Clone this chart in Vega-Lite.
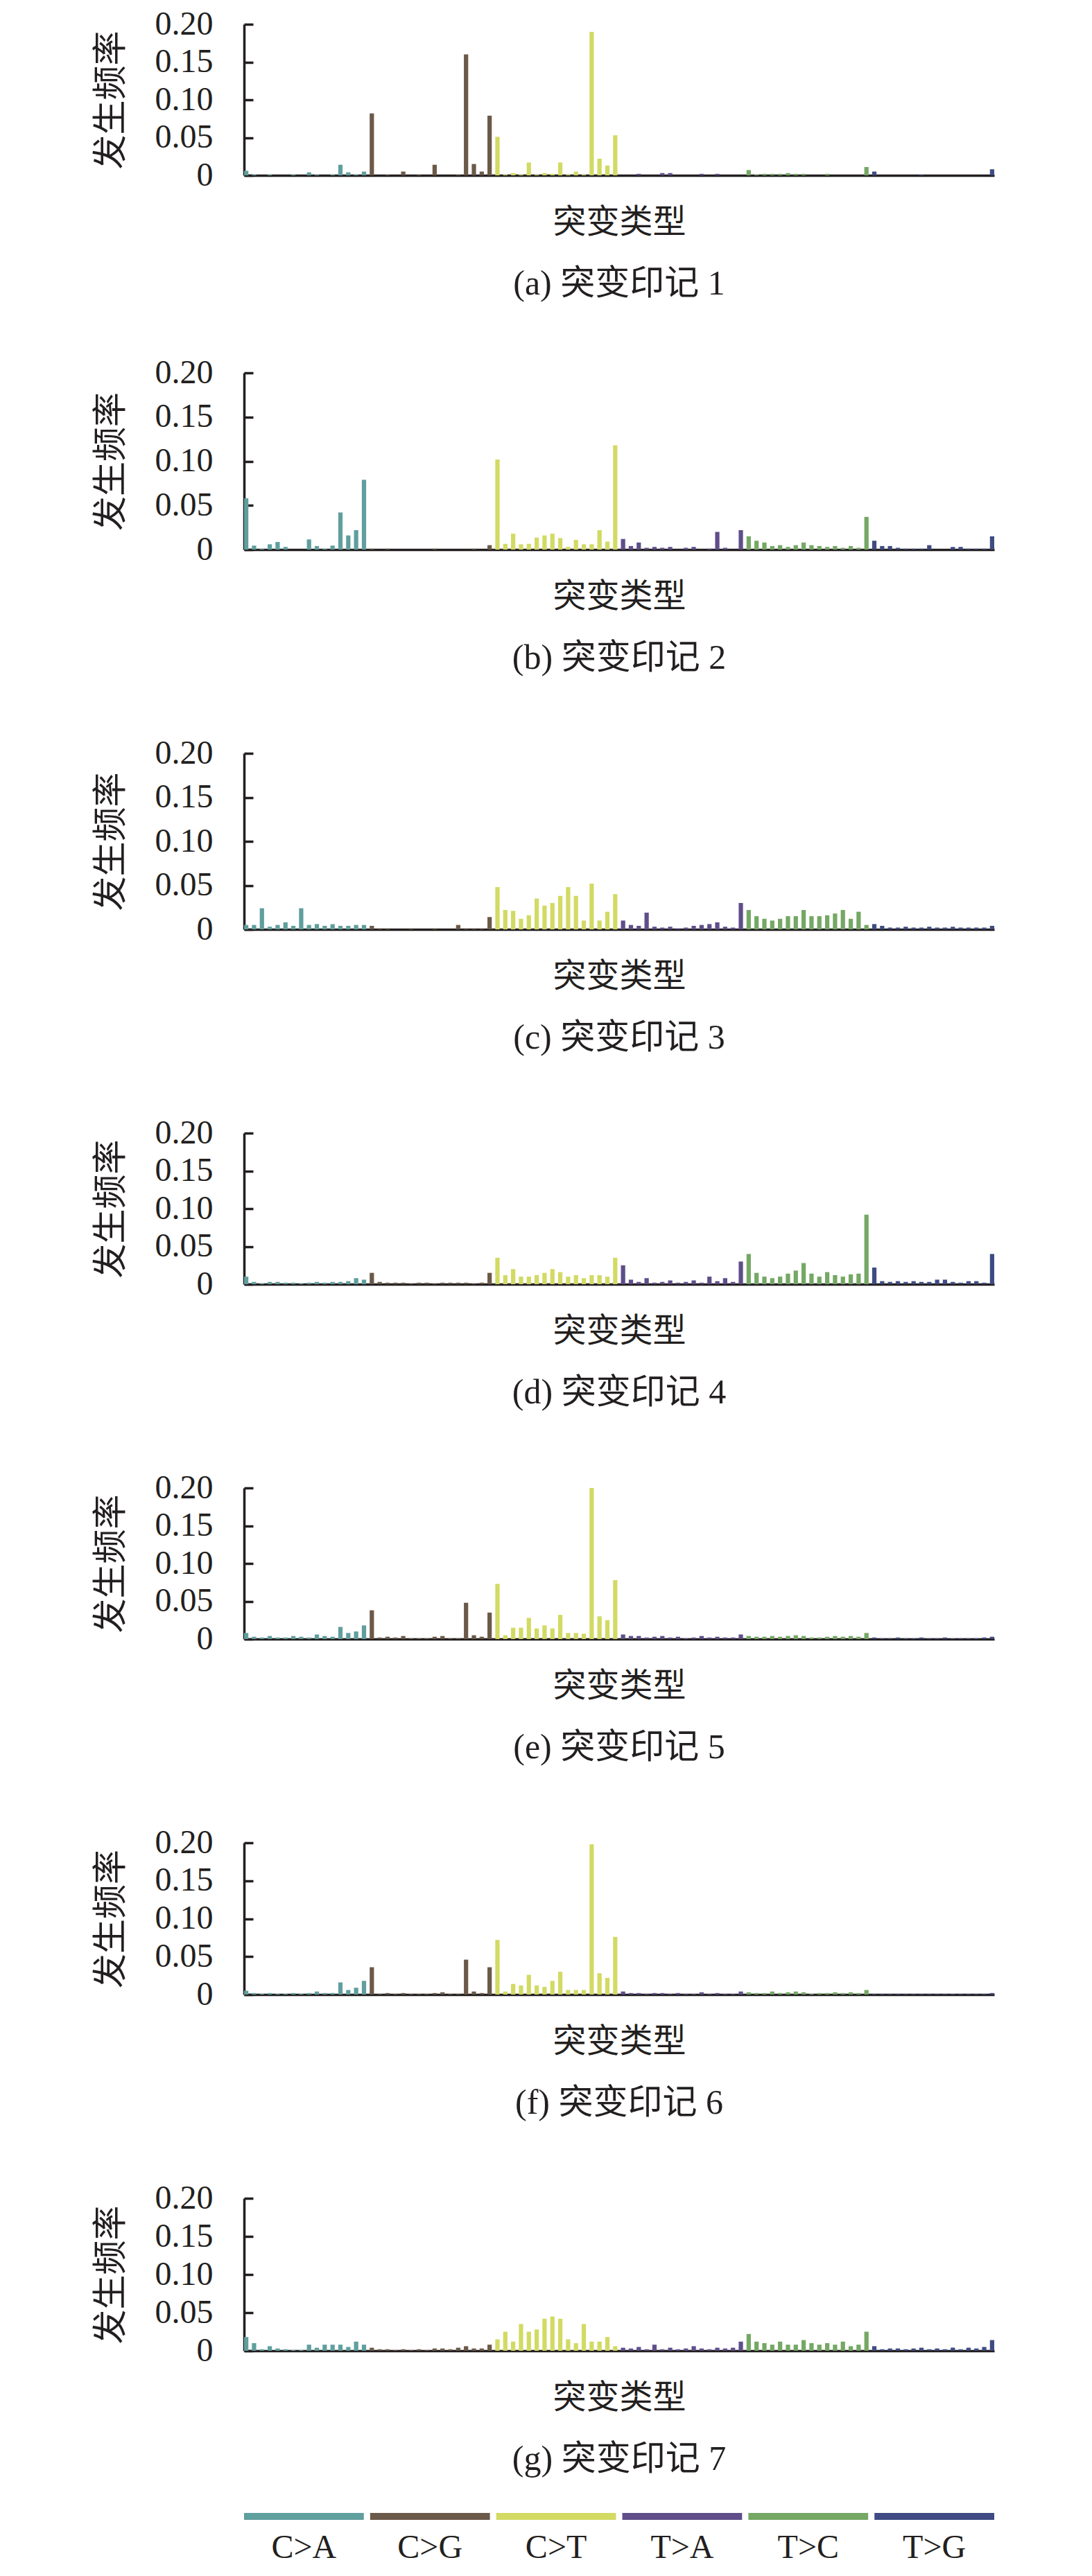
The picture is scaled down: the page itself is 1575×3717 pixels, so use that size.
{
"$schema": "https://vega.github.io/schema/vega-lite/v6.json",
"padding": {"left": 135, "top": 11, "right": 20, "bottom": 10},
"background": "white",
"config": {
 "view": {"stroke": null},
 "axis": {"domainColor": "#231f20", "domainWidth": 3.5, "tickColor": "#231f20", "tickWidth": 3.5, "grid": false, "labelFont": "Liberation Serif", "labelFontSize": 48, "labelColor": "#231f20", "titleFont": "Noto Sans CJK SC", "titleFontSize": 48, "titleFontWeight": "normal", "titleColor": "#231f20"},
 "axisY": {"tickSize": -13, "labelPadding": 58, "titlePadding": 38, "titleFontSize": 50},
 "axisX": {"titlePadding": 44, "labels": false, "ticks": false},
 "title": {"orient": "bottom", "font": "Liberation Serif, Noto Sans CJK SC", "fontSize": 50, "fontWeight": "normal", "color": "#231f20", "offset": 40, "anchor": "middle"}
},
"data": {"values": [
{"s":"a","i":0,"t":"C>A","v":0.006},{"s":"a","i":1,"t":"C>A","v":0.001},{"s":"a","i":2,"t":"C>A","v":0},{"s":"a","i":3,"t":"C>A","v":0.001},{"s":"a","i":4,"t":"C>A","v":0},{"s":"a","i":5,"t":"C>A","v":0},{"s":"a","i":6,"t":"C>A","v":0.001},{"s":"a","i":7,"t":"C>A","v":0},{"s":"a","i":8,"t":"C>A","v":0.004},{"s":"a","i":9,"t":"C>A","v":0.001},{"s":"a","i":10,"t":"C>A","v":0},{"s":"a","i":11,"t":"C>A","v":0.001},{"s":"a","i":12,"t":"C>A","v":0.014},{"s":"a","i":13,"t":"C>A","v":0.004},{"s":"a","i":14,"t":"C>A","v":0.001},{"s":"a","i":15,"t":"C>A","v":0.005},
{"s":"a","i":16,"t":"C>G","v":0.082},{"s":"a","i":17,"t":"C>G","v":0},{"s":"a","i":18,"t":"C>G","v":0.001},{"s":"a","i":19,"t":"C>G","v":0},{"s":"a","i":20,"t":"C>G","v":0.005},{"s":"a","i":21,"t":"C>G","v":0},{"s":"a","i":22,"t":"C>G","v":0.001},{"s":"a","i":23,"t":"C>G","v":0},{"s":"a","i":24,"t":"C>G","v":0.014},{"s":"a","i":25,"t":"C>G","v":0},{"s":"a","i":26,"t":"C>G","v":0},{"s":"a","i":27,"t":"C>G","v":0.001},{"s":"a","i":28,"t":"C>G","v":0.16},{"s":"a","i":29,"t":"C>G","v":0.015},{"s":"a","i":30,"t":"C>G","v":0.005},{"s":"a","i":31,"t":"C>G","v":0.079},
{"s":"a","i":32,"t":"C>T","v":0.051},{"s":"a","i":33,"t":"C>T","v":0.001},{"s":"a","i":34,"t":"C>T","v":0.003},{"s":"a","i":35,"t":"C>T","v":0.001},{"s":"a","i":36,"t":"C>T","v":0.017},{"s":"a","i":37,"t":"C>T","v":0.001},{"s":"a","i":38,"t":"C>T","v":0.003},{"s":"a","i":39,"t":"C>T","v":0.002},{"s":"a","i":40,"t":"C>T","v":0.017},{"s":"a","i":41,"t":"C>T","v":0.001},{"s":"a","i":42,"t":"C>T","v":0.005},{"s":"a","i":43,"t":"C>T","v":0.001},{"s":"a","i":44,"t":"C>T","v":0.19},{"s":"a","i":45,"t":"C>T","v":0.022},{"s":"a","i":46,"t":"C>T","v":0.013},{"s":"a","i":47,"t":"C>T","v":0.053},
{"s":"a","i":48,"t":"T>A","v":0},{"s":"a","i":49,"t":"T>A","v":0},{"s":"a","i":50,"t":"T>A","v":0.002},{"s":"a","i":51,"t":"T>A","v":0},{"s":"a","i":52,"t":"T>A","v":0},{"s":"a","i":53,"t":"T>A","v":0.003},{"s":"a","i":54,"t":"T>A","v":0.003},{"s":"a","i":55,"t":"T>A","v":0},{"s":"a","i":56,"t":"T>A","v":0},{"s":"a","i":57,"t":"T>A","v":0},{"s":"a","i":58,"t":"T>A","v":0.002},{"s":"a","i":59,"t":"T>A","v":0},{"s":"a","i":60,"t":"T>A","v":0.002},{"s":"a","i":61,"t":"T>A","v":0},{"s":"a","i":62,"t":"T>A","v":0},{"s":"a","i":63,"t":"T>A","v":0},
{"s":"a","i":64,"t":"T>C","v":0.007},{"s":"a","i":65,"t":"T>C","v":0.001},{"s":"a","i":66,"t":"T>C","v":0.002},{"s":"a","i":67,"t":"T>C","v":0.002},{"s":"a","i":68,"t":"T>C","v":0.002},{"s":"a","i":69,"t":"T>C","v":0.003},{"s":"a","i":70,"t":"T>C","v":0.002},{"s":"a","i":71,"t":"T>C","v":0.002},{"s":"a","i":72,"t":"T>C","v":0},{"s":"a","i":73,"t":"T>C","v":0},{"s":"a","i":74,"t":"T>C","v":0.002},{"s":"a","i":75,"t":"T>C","v":0},{"s":"a","i":76,"t":"T>C","v":0},{"s":"a","i":77,"t":"T>C","v":0},{"s":"a","i":78,"t":"T>C","v":0},{"s":"a","i":79,"t":"T>C","v":0.011},
{"s":"a","i":80,"t":"T>G","v":0.005},{"s":"a","i":81,"t":"T>G","v":0},{"s":"a","i":82,"t":"T>G","v":0},{"s":"a","i":83,"t":"T>G","v":0},{"s":"a","i":84,"t":"T>G","v":0},{"s":"a","i":85,"t":"T>G","v":0},{"s":"a","i":86,"t":"T>G","v":0.001},{"s":"a","i":87,"t":"T>G","v":0},{"s":"a","i":88,"t":"T>G","v":0},{"s":"a","i":89,"t":"T>G","v":0},{"s":"a","i":90,"t":"T>G","v":0},{"s":"a","i":91,"t":"T>G","v":0},{"s":"a","i":92,"t":"T>G","v":0},{"s":"a","i":93,"t":"T>G","v":0},{"s":"a","i":94,"t":"T>G","v":0},{"s":"a","i":95,"t":"T>G","v":0.008},

{"s":"b","i":0,"t":"C>A","v":0.058},{"s":"b","i":1,"t":"C>A","v":0.0045},{"s":"b","i":2,"t":"C>A","v":0.001},{"s":"b","i":3,"t":"C>A","v":0.006},{"s":"b","i":4,"t":"C>A","v":0.0086},{"s":"b","i":5,"t":"C>A","v":0.003},{"s":"b","i":6,"t":"C>A","v":0},{"s":"b","i":7,"t":"C>A","v":0},{"s":"b","i":8,"t":"C>A","v":0.0115},{"s":"b","i":9,"t":"C>A","v":0.004},{"s":"b","i":10,"t":"C>A","v":0.001},{"s":"b","i":11,"t":"C>A","v":0.0045},{"s":"b","i":12,"t":"C>A","v":0.042},{"s":"b","i":13,"t":"C>A","v":0.016},{"s":"b","i":14,"t":"C>A","v":0.022},{"s":"b","i":15,"t":"C>A","v":0.079},
{"s":"b","i":16,"t":"C>G","v":0.001},{"s":"b","i":17,"t":"C>G","v":0},{"s":"b","i":18,"t":"C>G","v":0.001},{"s":"b","i":19,"t":"C>G","v":0},{"s":"b","i":20,"t":"C>G","v":0},{"s":"b","i":21,"t":"C>G","v":0},{"s":"b","i":22,"t":"C>G","v":0},{"s":"b","i":23,"t":"C>G","v":0},{"s":"b","i":24,"t":"C>G","v":0.001},{"s":"b","i":25,"t":"C>G","v":0},{"s":"b","i":26,"t":"C>G","v":0},{"s":"b","i":27,"t":"C>G","v":0},{"s":"b","i":28,"t":"C>G","v":0},{"s":"b","i":29,"t":"C>G","v":0.001},{"s":"b","i":30,"t":"C>G","v":0},{"s":"b","i":31,"t":"C>G","v":0.005},
{"s":"b","i":32,"t":"C>T","v":0.102},{"s":"b","i":33,"t":"C>T","v":0.0065},{"s":"b","i":34,"t":"C>T","v":0.018},{"s":"b","i":35,"t":"C>T","v":0.006},{"s":"b","i":36,"t":"C>T","v":0.0065},{"s":"b","i":37,"t":"C>T","v":0.0136},{"s":"b","i":38,"t":"C>T","v":0.016},{"s":"b","i":39,"t":"C>T","v":0.018},{"s":"b","i":40,"t":"C>T","v":0.013},{"s":"b","i":41,"t":"C>T","v":0.003},{"s":"b","i":42,"t":"C>T","v":0.011},{"s":"b","i":43,"t":"C>T","v":0.006},{"s":"b","i":44,"t":"C>T","v":0.006},{"s":"b","i":45,"t":"C>T","v":0.022},{"s":"b","i":46,"t":"C>T","v":0.009},{"s":"b","i":47,"t":"C>T","v":0.118},
{"s":"b","i":48,"t":"T>A","v":0.012},{"s":"b","i":49,"t":"T>A","v":0.004},{"s":"b","i":50,"t":"T>A","v":0.008},{"s":"b","i":51,"t":"T>A","v":0.002},{"s":"b","i":52,"t":"T>A","v":0.003},{"s":"b","i":53,"t":"T>A","v":0.002},{"s":"b","i":54,"t":"T>A","v":0.003},{"s":"b","i":55,"t":"T>A","v":0},{"s":"b","i":56,"t":"T>A","v":0.002},{"s":"b","i":57,"t":"T>A","v":0.003},{"s":"b","i":58,"t":"T>A","v":0},{"s":"b","i":59,"t":"T>A","v":0.001},{"s":"b","i":60,"t":"T>A","v":0.02},{"s":"b","i":61,"t":"T>A","v":0.002},{"s":"b","i":62,"t":"T>A","v":0},{"s":"b","i":63,"t":"T>A","v":0.022},
{"s":"b","i":64,"t":"T>C","v":0.015},{"s":"b","i":65,"t":"T>C","v":0.01},{"s":"b","i":66,"t":"T>C","v":0.008},{"s":"b","i":67,"t":"T>C","v":0.004},{"s":"b","i":68,"t":"T>C","v":0.005},{"s":"b","i":69,"t":"T>C","v":0.003},{"s":"b","i":70,"t":"T>C","v":0.005},{"s":"b","i":71,"t":"T>C","v":0.008},{"s":"b","i":72,"t":"T>C","v":0.005},{"s":"b","i":73,"t":"T>C","v":0.004},{"s":"b","i":74,"t":"T>C","v":0.003},{"s":"b","i":75,"t":"T>C","v":0.004},{"s":"b","i":76,"t":"T>C","v":0.002},{"s":"b","i":77,"t":"T>C","v":0.004},{"s":"b","i":78,"t":"T>C","v":0.002},{"s":"b","i":79,"t":"T>C","v":0.037},
{"s":"b","i":80,"t":"T>G","v":0.01},{"s":"b","i":81,"t":"T>G","v":0.004},{"s":"b","i":82,"t":"T>G","v":0.004},{"s":"b","i":83,"t":"T>G","v":0.002},{"s":"b","i":84,"t":"T>G","v":0.001},{"s":"b","i":85,"t":"T>G","v":0.001},{"s":"b","i":86,"t":"T>G","v":0.001},{"s":"b","i":87,"t":"T>G","v":0.005},{"s":"b","i":88,"t":"T>G","v":0},{"s":"b","i":89,"t":"T>G","v":0},{"s":"b","i":90,"t":"T>G","v":0.003},{"s":"b","i":91,"t":"T>G","v":0.003},{"s":"b","i":92,"t":"T>G","v":0.001},{"s":"b","i":93,"t":"T>G","v":0.001},{"s":"b","i":94,"t":"T>G","v":0.001},{"s":"b","i":95,"t":"T>G","v":0.015},

{"s":"c","i":0,"t":"C>A","v":0.005},{"s":"c","i":1,"t":"C>A","v":0.005},{"s":"c","i":2,"t":"C>A","v":0.024},{"s":"c","i":3,"t":"C>A","v":0.003},{"s":"c","i":4,"t":"C>A","v":0.005},{"s":"c","i":5,"t":"C>A","v":0.008},{"s":"c","i":6,"t":"C>A","v":0.004},{"s":"c","i":7,"t":"C>A","v":0.024},{"s":"c","i":8,"t":"C>A","v":0.005},{"s":"c","i":9,"t":"C>A","v":0.006},{"s":"c","i":10,"t":"C>A","v":0.004},{"s":"c","i":11,"t":"C>A","v":0.006},{"s":"c","i":12,"t":"C>A","v":0.004},{"s":"c","i":13,"t":"C>A","v":0.004},{"s":"c","i":14,"t":"C>A","v":0.005},{"s":"c","i":15,"t":"C>A","v":0.005},
{"s":"c","i":16,"t":"C>G","v":0.004},{"s":"c","i":17,"t":"C>G","v":0.001},{"s":"c","i":18,"t":"C>G","v":0.001},{"s":"c","i":19,"t":"C>G","v":0},{"s":"c","i":20,"t":"C>G","v":0},{"s":"c","i":21,"t":"C>G","v":0.001},{"s":"c","i":22,"t":"C>G","v":0},{"s":"c","i":23,"t":"C>G","v":0},{"s":"c","i":24,"t":"C>G","v":0.001},{"s":"c","i":25,"t":"C>G","v":0},{"s":"c","i":26,"t":"C>G","v":0},{"s":"c","i":27,"t":"C>G","v":0.005},{"s":"c","i":28,"t":"C>G","v":0.001},{"s":"c","i":29,"t":"C>G","v":0.001},{"s":"c","i":30,"t":"C>G","v":0.001},{"s":"c","i":31,"t":"C>G","v":0.014},
{"s":"c","i":32,"t":"C>T","v":0.048},{"s":"c","i":33,"t":"C>T","v":0.022},{"s":"c","i":34,"t":"C>T","v":0.021},{"s":"c","i":35,"t":"C>T","v":0.012},{"s":"c","i":36,"t":"C>T","v":0.016},{"s":"c","i":37,"t":"C>T","v":0.035},{"s":"c","i":38,"t":"C>T","v":0.027},{"s":"c","i":39,"t":"C>T","v":0.03},{"s":"c","i":40,"t":"C>T","v":0.038},{"s":"c","i":41,"t":"C>T","v":0.048},{"s":"c","i":42,"t":"C>T","v":0.038},{"s":"c","i":43,"t":"C>T","v":0.01},{"s":"c","i":44,"t":"C>T","v":0.052},{"s":"c","i":45,"t":"C>T","v":0.01},{"s":"c","i":46,"t":"C>T","v":0.02},{"s":"c","i":47,"t":"C>T","v":0.04},
{"s":"c","i":48,"t":"T>A","v":0.01},{"s":"c","i":49,"t":"T>A","v":0.005},{"s":"c","i":50,"t":"T>A","v":0.004},{"s":"c","i":51,"t":"T>A","v":0.019},{"s":"c","i":52,"t":"T>A","v":0.003},{"s":"c","i":53,"t":"T>A","v":0.002},{"s":"c","i":54,"t":"T>A","v":0.003},{"s":"c","i":55,"t":"T>A","v":0.001},{"s":"c","i":56,"t":"T>A","v":0.002},{"s":"c","i":57,"t":"T>A","v":0.004},{"s":"c","i":58,"t":"T>A","v":0.005},{"s":"c","i":59,"t":"T>A","v":0.006},{"s":"c","i":60,"t":"T>A","v":0.008},{"s":"c","i":61,"t":"T>A","v":0.003},{"s":"c","i":62,"t":"T>A","v":0.002},{"s":"c","i":63,"t":"T>A","v":0.03},
{"s":"c","i":64,"t":"T>C","v":0.022},{"s":"c","i":65,"t":"T>C","v":0.015},{"s":"c","i":66,"t":"T>C","v":0.012},{"s":"c","i":67,"t":"T>C","v":0.01},{"s":"c","i":68,"t":"T>C","v":0.012},{"s":"c","i":69,"t":"T>C","v":0.015},{"s":"c","i":70,"t":"T>C","v":0.015},{"s":"c","i":71,"t":"T>C","v":0.022},{"s":"c","i":72,"t":"T>C","v":0.015},{"s":"c","i":73,"t":"T>C","v":0.015},{"s":"c","i":74,"t":"T>C","v":0.016},{"s":"c","i":75,"t":"T>C","v":0.018},{"s":"c","i":76,"t":"T>C","v":0.022},{"s":"c","i":77,"t":"T>C","v":0.012},{"s":"c","i":78,"t":"T>C","v":0.02},{"s":"c","i":79,"t":"T>C","v":0.005},
{"s":"c","i":80,"t":"T>G","v":0.006},{"s":"c","i":81,"t":"T>G","v":0.004},{"s":"c","i":82,"t":"T>G","v":0.002},{"s":"c","i":83,"t":"T>G","v":0.002},{"s":"c","i":84,"t":"T>G","v":0.003},{"s":"c","i":85,"t":"T>G","v":0.002},{"s":"c","i":86,"t":"T>G","v":0.002},{"s":"c","i":87,"t":"T>G","v":0.003},{"s":"c","i":88,"t":"T>G","v":0.002},{"s":"c","i":89,"t":"T>G","v":0.002},{"s":"c","i":90,"t":"T>G","v":0.003},{"s":"c","i":91,"t":"T>G","v":0.002},{"s":"c","i":92,"t":"T>G","v":0.002},{"s":"c","i":93,"t":"T>G","v":0.002},{"s":"c","i":94,"t":"T>G","v":0.002},{"s":"c","i":95,"t":"T>G","v":0.004},

{"s":"d","i":0,"t":"C>A","v":0.01},{"s":"d","i":1,"t":"C>A","v":0.003},{"s":"d","i":2,"t":"C>A","v":0.001},{"s":"d","i":3,"t":"C>A","v":0.003},{"s":"d","i":4,"t":"C>A","v":0.003},{"s":"d","i":5,"t":"C>A","v":0.002},{"s":"d","i":6,"t":"C>A","v":0.002},{"s":"d","i":7,"t":"C>A","v":0.001},{"s":"d","i":8,"t":"C>A","v":0.002},{"s":"d","i":9,"t":"C>A","v":0.003},{"s":"d","i":10,"t":"C>A","v":0.002},{"s":"d","i":11,"t":"C>A","v":0.003},{"s":"d","i":12,"t":"C>A","v":0.003},{"s":"d","i":13,"t":"C>A","v":0.004},{"s":"d","i":14,"t":"C>A","v":0.008},{"s":"d","i":15,"t":"C>A","v":0.006},
{"s":"d","i":16,"t":"C>G","v":0.015},{"s":"d","i":17,"t":"C>G","v":0.003},{"s":"d","i":18,"t":"C>G","v":0.002},{"s":"d","i":19,"t":"C>G","v":0.002},{"s":"d","i":20,"t":"C>G","v":0.002},{"s":"d","i":21,"t":"C>G","v":0.001},{"s":"d","i":22,"t":"C>G","v":0.002},{"s":"d","i":23,"t":"C>G","v":0.002},{"s":"d","i":24,"t":"C>G","v":0.001},{"s":"d","i":25,"t":"C>G","v":0.002},{"s":"d","i":26,"t":"C>G","v":0.002},{"s":"d","i":27,"t":"C>G","v":0.002},{"s":"d","i":28,"t":"C>G","v":0.002},{"s":"d","i":29,"t":"C>G","v":0.001},{"s":"d","i":30,"t":"C>G","v":0.002},{"s":"d","i":31,"t":"C>G","v":0.015},
{"s":"d","i":32,"t":"C>T","v":0.035},{"s":"d","i":33,"t":"C>T","v":0.012},{"s":"d","i":34,"t":"C>T","v":0.02},{"s":"d","i":35,"t":"C>T","v":0.01},{"s":"d","i":36,"t":"C>T","v":0.01},{"s":"d","i":37,"t":"C>T","v":0.012},{"s":"d","i":38,"t":"C>T","v":0.015},{"s":"d","i":39,"t":"C>T","v":0.02},{"s":"d","i":40,"t":"C>T","v":0.016},{"s":"d","i":41,"t":"C>T","v":0.01},{"s":"d","i":42,"t":"C>T","v":0.012},{"s":"d","i":43,"t":"C>T","v":0.008},{"s":"d","i":44,"t":"C>T","v":0.012},{"s":"d","i":45,"t":"C>T","v":0.012},{"s":"d","i":46,"t":"C>T","v":0.01},{"s":"d","i":47,"t":"C>T","v":0.035},
{"s":"d","i":48,"t":"T>A","v":0.025},{"s":"d","i":49,"t":"T>A","v":0.006},{"s":"d","i":50,"t":"T>A","v":0.003},{"s":"d","i":51,"t":"T>A","v":0.008},{"s":"d","i":52,"t":"T>A","v":0.002},{"s":"d","i":53,"t":"T>A","v":0.003},{"s":"d","i":54,"t":"T>A","v":0.005},{"s":"d","i":55,"t":"T>A","v":0.002},{"s":"d","i":56,"t":"T>A","v":0.003},{"s":"d","i":57,"t":"T>A","v":0.005},{"s":"d","i":58,"t":"T>A","v":0.002},{"s":"d","i":59,"t":"T>A","v":0.01},{"s":"d","i":60,"t":"T>A","v":0.004},{"s":"d","i":61,"t":"T>A","v":0.008},{"s":"d","i":62,"t":"T>A","v":0.003},{"s":"d","i":63,"t":"T>A","v":0.03},
{"s":"d","i":64,"t":"T>C","v":0.04},{"s":"d","i":65,"t":"T>C","v":0.015},{"s":"d","i":66,"t":"T>C","v":0.01},{"s":"d","i":67,"t":"T>C","v":0.008},{"s":"d","i":68,"t":"T>C","v":0.01},{"s":"d","i":69,"t":"T>C","v":0.014},{"s":"d","i":70,"t":"T>C","v":0.018},{"s":"d","i":71,"t":"T>C","v":0.028},{"s":"d","i":72,"t":"T>C","v":0.014},{"s":"d","i":73,"t":"T>C","v":0.01},{"s":"d","i":74,"t":"T>C","v":0.016},{"s":"d","i":75,"t":"T>C","v":0.012},{"s":"d","i":76,"t":"T>C","v":0.01},{"s":"d","i":77,"t":"T>C","v":0.013},{"s":"d","i":78,"t":"T>C","v":0.014},{"s":"d","i":79,"t":"T>C","v":0.092},
{"s":"d","i":80,"t":"T>G","v":0.022},{"s":"d","i":81,"t":"T>G","v":0.004},{"s":"d","i":82,"t":"T>G","v":0.003},{"s":"d","i":83,"t":"T>G","v":0.004},{"s":"d","i":84,"t":"T>G","v":0.003},{"s":"d","i":85,"t":"T>G","v":0.004},{"s":"d","i":86,"t":"T>G","v":0.003},{"s":"d","i":87,"t":"T>G","v":0.003},{"s":"d","i":88,"t":"T>G","v":0.006},{"s":"d","i":89,"t":"T>G","v":0.006},{"s":"d","i":90,"t":"T>G","v":0.003},{"s":"d","i":91,"t":"T>G","v":0.002},{"s":"d","i":92,"t":"T>G","v":0.004},{"s":"d","i":93,"t":"T>G","v":0.004},{"s":"d","i":94,"t":"T>G","v":0.002},{"s":"d","i":95,"t":"T>G","v":0.04},

{"s":"e","i":0,"t":"C>A","v":0.008},{"s":"e","i":1,"t":"C>A","v":0.003},{"s":"e","i":2,"t":"C>A","v":0.002},{"s":"e","i":3,"t":"C>A","v":0.004},{"s":"e","i":4,"t":"C>A","v":0.002},{"s":"e","i":5,"t":"C>A","v":0.002},{"s":"e","i":6,"t":"C>A","v":0.004},{"s":"e","i":7,"t":"C>A","v":0.003},{"s":"e","i":8,"t":"C>A","v":0.002},{"s":"e","i":9,"t":"C>A","v":0.006},{"s":"e","i":10,"t":"C>A","v":0.004},{"s":"e","i":11,"t":"C>A","v":0.003},{"s":"e","i":12,"t":"C>A","v":0.016},{"s":"e","i":13,"t":"C>A","v":0.008},{"s":"e","i":14,"t":"C>A","v":0.01},{"s":"e","i":15,"t":"C>A","v":0.018},
{"s":"e","i":16,"t":"C>G","v":0.038},{"s":"e","i":17,"t":"C>G","v":0.002},{"s":"e","i":18,"t":"C>G","v":0.003},{"s":"e","i":19,"t":"C>G","v":0.002},{"s":"e","i":20,"t":"C>G","v":0.004},{"s":"e","i":21,"t":"C>G","v":0.001},{"s":"e","i":22,"t":"C>G","v":0.001},{"s":"e","i":23,"t":"C>G","v":0.001},{"s":"e","i":24,"t":"C>G","v":0.003},{"s":"e","i":25,"t":"C>G","v":0.004},{"s":"e","i":26,"t":"C>G","v":0.001},{"s":"e","i":27,"t":"C>G","v":0.001},{"s":"e","i":28,"t":"C>G","v":0.048},{"s":"e","i":29,"t":"C>G","v":0.005},{"s":"e","i":30,"t":"C>G","v":0.003},{"s":"e","i":31,"t":"C>G","v":0.035},
{"s":"e","i":32,"t":"C>T","v":0.073},{"s":"e","i":33,"t":"C>T","v":0.005},{"s":"e","i":34,"t":"C>T","v":0.015},{"s":"e","i":35,"t":"C>T","v":0.015},{"s":"e","i":36,"t":"C>T","v":0.028},{"s":"e","i":37,"t":"C>T","v":0.014},{"s":"e","i":38,"t":"C>T","v":0.018},{"s":"e","i":39,"t":"C>T","v":0.014},{"s":"e","i":40,"t":"C>T","v":0.032},{"s":"e","i":41,"t":"C>T","v":0.008},{"s":"e","i":42,"t":"C>T","v":0.008},{"s":"e","i":43,"t":"C>T","v":0.007},{"s":"e","i":44,"t":"C>T","v":0.2},{"s":"e","i":45,"t":"C>T","v":0.03},{"s":"e","i":46,"t":"C>T","v":0.025},{"s":"e","i":47,"t":"C>T","v":0.078},
{"s":"e","i":48,"t":"T>A","v":0.006},{"s":"e","i":49,"t":"T>A","v":0.004},{"s":"e","i":50,"t":"T>A","v":0.004},{"s":"e","i":51,"t":"T>A","v":0.002},{"s":"e","i":52,"t":"T>A","v":0.003},{"s":"e","i":53,"t":"T>A","v":0.004},{"s":"e","i":54,"t":"T>A","v":0.002},{"s":"e","i":55,"t":"T>A","v":0.003},{"s":"e","i":56,"t":"T>A","v":0.001},{"s":"e","i":57,"t":"T>A","v":0.002},{"s":"e","i":58,"t":"T>A","v":0.004},{"s":"e","i":59,"t":"T>A","v":0.002},{"s":"e","i":60,"t":"T>A","v":0.003},{"s":"e","i":61,"t":"T>A","v":0.002},{"s":"e","i":62,"t":"T>A","v":0.002},{"s":"e","i":63,"t":"T>A","v":0.006},
{"s":"e","i":64,"t":"T>C","v":0.004},{"s":"e","i":65,"t":"T>C","v":0.003},{"s":"e","i":66,"t":"T>C","v":0.003},{"s":"e","i":67,"t":"T>C","v":0.004},{"s":"e","i":68,"t":"T>C","v":0.003},{"s":"e","i":69,"t":"T>C","v":0.004},{"s":"e","i":70,"t":"T>C","v":0.005},{"s":"e","i":71,"t":"T>C","v":0.004},{"s":"e","i":72,"t":"T>C","v":0.002},{"s":"e","i":73,"t":"T>C","v":0.002},{"s":"e","i":74,"t":"T>C","v":0.003},{"s":"e","i":75,"t":"T>C","v":0.004},{"s":"e","i":76,"t":"T>C","v":0.003},{"s":"e","i":77,"t":"T>C","v":0.004},{"s":"e","i":78,"t":"T>C","v":0.003},{"s":"e","i":79,"t":"T>C","v":0.008},
{"s":"e","i":80,"t":"T>G","v":0.002},{"s":"e","i":81,"t":"T>G","v":0.001},{"s":"e","i":82,"t":"T>G","v":0.001},{"s":"e","i":83,"t":"T>G","v":0.002},{"s":"e","i":84,"t":"T>G","v":0.001},{"s":"e","i":85,"t":"T>G","v":0.001},{"s":"e","i":86,"t":"T>G","v":0.002},{"s":"e","i":87,"t":"T>G","v":0.001},{"s":"e","i":88,"t":"T>G","v":0.001},{"s":"e","i":89,"t":"T>G","v":0.002},{"s":"e","i":90,"t":"T>G","v":0.001},{"s":"e","i":91,"t":"T>G","v":0.001},{"s":"e","i":92,"t":"T>G","v":0.001},{"s":"e","i":93,"t":"T>G","v":0.001},{"s":"e","i":94,"t":"T>G","v":0.002},{"s":"e","i":95,"t":"T>G","v":0.003},

{"s":"f","i":0,"t":"C>A","v":0.005},{"s":"f","i":1,"t":"C>A","v":0.002},{"s":"f","i":2,"t":"C>A","v":0.001},{"s":"f","i":3,"t":"C>A","v":0.002},{"s":"f","i":4,"t":"C>A","v":0.001},{"s":"f","i":5,"t":"C>A","v":0.001},{"s":"f","i":6,"t":"C>A","v":0.002},{"s":"f","i":7,"t":"C>A","v":0.001},{"s":"f","i":8,"t":"C>A","v":0.002},{"s":"f","i":9,"t":"C>A","v":0.004},{"s":"f","i":10,"t":"C>A","v":0.002},{"s":"f","i":11,"t":"C>A","v":0.002},{"s":"f","i":12,"t":"C>A","v":0.016},{"s":"f","i":13,"t":"C>A","v":0.006},{"s":"f","i":14,"t":"C>A","v":0.009},{"s":"f","i":15,"t":"C>A","v":0.018},
{"s":"f","i":16,"t":"C>G","v":0.036},{"s":"f","i":17,"t":"C>G","v":0.001},{"s":"f","i":18,"t":"C>G","v":0.002},{"s":"f","i":19,"t":"C>G","v":0.001},{"s":"f","i":20,"t":"C>G","v":0.002},{"s":"f","i":21,"t":"C>G","v":0.001},{"s":"f","i":22,"t":"C>G","v":0.001},{"s":"f","i":23,"t":"C>G","v":0.001},{"s":"f","i":24,"t":"C>G","v":0.002},{"s":"f","i":25,"t":"C>G","v":0.003},{"s":"f","i":26,"t":"C>G","v":0.001},{"s":"f","i":27,"t":"C>G","v":0.001},{"s":"f","i":28,"t":"C>G","v":0.046},{"s":"f","i":29,"t":"C>G","v":0.004},{"s":"f","i":30,"t":"C>G","v":0.002},{"s":"f","i":31,"t":"C>G","v":0.036},
{"s":"f","i":32,"t":"C>T","v":0.072},{"s":"f","i":33,"t":"C>T","v":0.004},{"s":"f","i":34,"t":"C>T","v":0.014},{"s":"f","i":35,"t":"C>T","v":0.012},{"s":"f","i":36,"t":"C>T","v":0.026},{"s":"f","i":37,"t":"C>T","v":0.012},{"s":"f","i":38,"t":"C>T","v":0.01},{"s":"f","i":39,"t":"C>T","v":0.018},{"s":"f","i":40,"t":"C>T","v":0.03},{"s":"f","i":41,"t":"C>T","v":0.006},{"s":"f","i":42,"t":"C>T","v":0.006},{"s":"f","i":43,"t":"C>T","v":0.006},{"s":"f","i":44,"t":"C>T","v":0.198},{"s":"f","i":45,"t":"C>T","v":0.028},{"s":"f","i":46,"t":"C>T","v":0.022},{"s":"f","i":47,"t":"C>T","v":0.076},
{"s":"f","i":48,"t":"T>A","v":0.004},{"s":"f","i":49,"t":"T>A","v":0.002},{"s":"f","i":50,"t":"T>A","v":0.002},{"s":"f","i":51,"t":"T>A","v":0.001},{"s":"f","i":52,"t":"T>A","v":0.002},{"s":"f","i":53,"t":"T>A","v":0.002},{"s":"f","i":54,"t":"T>A","v":0.001},{"s":"f","i":55,"t":"T>A","v":0.002},{"s":"f","i":56,"t":"T>A","v":0.001},{"s":"f","i":57,"t":"T>A","v":0.001},{"s":"f","i":58,"t":"T>A","v":0.003},{"s":"f","i":59,"t":"T>A","v":0.001},{"s":"f","i":60,"t":"T>A","v":0.002},{"s":"f","i":61,"t":"T>A","v":0.001},{"s":"f","i":62,"t":"T>A","v":0.001},{"s":"f","i":63,"t":"T>A","v":0.004},
{"s":"f","i":64,"t":"T>C","v":0.003},{"s":"f","i":65,"t":"T>C","v":0.002},{"s":"f","i":66,"t":"T>C","v":0.002},{"s":"f","i":67,"t":"T>C","v":0.004},{"s":"f","i":68,"t":"T>C","v":0.002},{"s":"f","i":69,"t":"T>C","v":0.003},{"s":"f","i":70,"t":"T>C","v":0.004},{"s":"f","i":71,"t":"T>C","v":0.003},{"s":"f","i":72,"t":"T>C","v":0.001},{"s":"f","i":73,"t":"T>C","v":0.002},{"s":"f","i":74,"t":"T>C","v":0.002},{"s":"f","i":75,"t":"T>C","v":0.003},{"s":"f","i":76,"t":"T>C","v":0.002},{"s":"f","i":77,"t":"T>C","v":0.003},{"s":"f","i":78,"t":"T>C","v":0.002},{"s":"f","i":79,"t":"T>C","v":0.006},
{"s":"f","i":80,"t":"T>G","v":0.001},{"s":"f","i":81,"t":"T>G","v":0.001},{"s":"f","i":82,"t":"T>G","v":0.001},{"s":"f","i":83,"t":"T>G","v":0.001},{"s":"f","i":84,"t":"T>G","v":0.001},{"s":"f","i":85,"t":"T>G","v":0.001},{"s":"f","i":86,"t":"T>G","v":0.001},{"s":"f","i":87,"t":"T>G","v":0.001},{"s":"f","i":88,"t":"T>G","v":0.001},{"s":"f","i":89,"t":"T>G","v":0.001},{"s":"f","i":90,"t":"T>G","v":0.001},{"s":"f","i":91,"t":"T>G","v":0.001},{"s":"f","i":92,"t":"T>G","v":0.001},{"s":"f","i":93,"t":"T>G","v":0.001},{"s":"f","i":94,"t":"T>G","v":0.001},{"s":"f","i":95,"t":"T>G","v":0.002},

{"s":"g","i":0,"t":"C>A","v":0.018},{"s":"g","i":1,"t":"C>A","v":0.01},{"s":"g","i":2,"t":"C>A","v":0.002},{"s":"g","i":3,"t":"C>A","v":0.006},{"s":"g","i":4,"t":"C>A","v":0.003},{"s":"g","i":5,"t":"C>A","v":0.002},{"s":"g","i":6,"t":"C>A","v":0.001},{"s":"g","i":7,"t":"C>A","v":0.001},{"s":"g","i":8,"t":"C>A","v":0.008},{"s":"g","i":9,"t":"C>A","v":0.004},{"s":"g","i":10,"t":"C>A","v":0.008},{"s":"g","i":11,"t":"C>A","v":0.008},{"s":"g","i":12,"t":"C>A","v":0.008},{"s":"g","i":13,"t":"C>A","v":0.005},{"s":"g","i":14,"t":"C>A","v":0.012},{"s":"g","i":15,"t":"C>A","v":0.008},
{"s":"g","i":16,"t":"C>G","v":0.004},{"s":"g","i":17,"t":"C>G","v":0.002},{"s":"g","i":18,"t":"C>G","v":0.002},{"s":"g","i":19,"t":"C>G","v":0.001},{"s":"g","i":20,"t":"C>G","v":0.002},{"s":"g","i":21,"t":"C>G","v":0.001},{"s":"g","i":22,"t":"C>G","v":0.002},{"s":"g","i":23,"t":"C>G","v":0.001},{"s":"g","i":24,"t":"C>G","v":0.003},{"s":"g","i":25,"t":"C>G","v":0.003},{"s":"g","i":26,"t":"C>G","v":0.002},{"s":"g","i":27,"t":"C>G","v":0.004},{"s":"g","i":28,"t":"C>G","v":0.006},{"s":"g","i":29,"t":"C>G","v":0.003},{"s":"g","i":30,"t":"C>G","v":0.003},{"s":"g","i":31,"t":"C>G","v":0.008},
{"s":"g","i":32,"t":"C>T","v":0.015},{"s":"g","i":33,"t":"C>T","v":0.025},{"s":"g","i":34,"t":"C>T","v":0.012},{"s":"g","i":35,"t":"C>T","v":0.035},{"s":"g","i":36,"t":"C>T","v":0.025},{"s":"g","i":37,"t":"C>T","v":0.028},{"s":"g","i":38,"t":"C>T","v":0.042},{"s":"g","i":39,"t":"C>T","v":0.045},{"s":"g","i":40,"t":"C>T","v":0.042},{"s":"g","i":41,"t":"C>T","v":0.015},{"s":"g","i":42,"t":"C>T","v":0.01},{"s":"g","i":43,"t":"C>T","v":0.035},{"s":"g","i":44,"t":"C>T","v":0.012},{"s":"g","i":45,"t":"C>T","v":0.012},{"s":"g","i":46,"t":"C>T","v":0.018},{"s":"g","i":47,"t":"C>T","v":0.006},
{"s":"g","i":48,"t":"T>A","v":0.004},{"s":"g","i":49,"t":"T>A","v":0.003},{"s":"g","i":50,"t":"T>A","v":0.005},{"s":"g","i":51,"t":"T>A","v":0.002},{"s":"g","i":52,"t":"T>A","v":0.008},{"s":"g","i":53,"t":"T>A","v":0.002},{"s":"g","i":54,"t":"T>A","v":0.004},{"s":"g","i":55,"t":"T>A","v":0.002},{"s":"g","i":56,"t":"T>A","v":0.003},{"s":"g","i":57,"t":"T>A","v":0.006},{"s":"g","i":58,"t":"T>A","v":0.003},{"s":"g","i":59,"t":"T>A","v":0.002},{"s":"g","i":60,"t":"T>A","v":0.004},{"s":"g","i":61,"t":"T>A","v":0.003},{"s":"g","i":62,"t":"T>A","v":0.004},{"s":"g","i":63,"t":"T>A","v":0.012},
{"s":"g","i":64,"t":"T>C","v":0.022},{"s":"g","i":65,"t":"T>C","v":0.012},{"s":"g","i":66,"t":"T>C","v":0.01},{"s":"g","i":67,"t":"T>C","v":0.008},{"s":"g","i":68,"t":"T>C","v":0.012},{"s":"g","i":69,"t":"T>C","v":0.008},{"s":"g","i":70,"t":"T>C","v":0.008},{"s":"g","i":71,"t":"T>C","v":0.014},{"s":"g","i":72,"t":"T>C","v":0.01},{"s":"g","i":73,"t":"T>C","v":0.008},{"s":"g","i":74,"t":"T>C","v":0.01},{"s":"g","i":75,"t":"T>C","v":0.008},{"s":"g","i":76,"t":"T>C","v":0.012},{"s":"g","i":77,"t":"T>C","v":0.006},{"s":"g","i":78,"t":"T>C","v":0.008},{"s":"g","i":79,"t":"T>C","v":0.025},
{"s":"g","i":80,"t":"T>G","v":0.006},{"s":"g","i":81,"t":"T>G","v":0.002},{"s":"g","i":82,"t":"T>G","v":0.003},{"s":"g","i":83,"t":"T>G","v":0.003},{"s":"g","i":84,"t":"T>G","v":0.002},{"s":"g","i":85,"t":"T>G","v":0.003},{"s":"g","i":86,"t":"T>G","v":0.004},{"s":"g","i":87,"t":"T>G","v":0.002},{"s":"g","i":88,"t":"T>G","v":0.003},{"s":"g","i":89,"t":"T>G","v":0.002},{"s":"g","i":90,"t":"T>G","v":0.004},{"s":"g","i":91,"t":"T>G","v":0.002},{"s":"g","i":92,"t":"T>G","v":0.004},{"s":"g","i":93,"t":"T>G","v":0.003},{"s":"g","i":94,"t":"T>G","v":0.005},{"s":"g","i":95,"t":"T>G","v":0.014}
]},
"bounds": "flush",
"spacing": 285,
"vconcat": [
 {"width": 1082, "height": 218, "transform": [{"filter": "datum.s === 'a'"}], "title": {"text": "(a) 突变印记 1"},
  "mark": {"type": "bar"},
  "encoding": {
   "x": {"field": "i", "type": "ordinal", "scale": {"paddingInner": 0.45, "paddingOuter": 0}, "axis": {"title": "突变类型"}},
   "y": {"field": "v", "type": "quantitative", "scale": {"domain": [0, 0.2], "nice": false}, "axis": {"title": "发生频率", "values": [0, 0.05, 0.1, 0.15, 0.2], "labelExpr": "datum.value === 0 ? '0' : format(datum.value, '.2f')"}},
   "color": {"field": "t", "type": "nominal", "scale": {"domain": ["C>A", "C>G", "C>T", "T>A", "T>C", "T>G"], "range": ["#5f9f9d", "#6b5949", "#d2da63", "#5f4e8a", "#74a864", "#3f4b82"]}, "legend": null}
  }},
 {"bounds": "flush", "spacing": 294, "vconcat": [
  {"width": 1082, "height": 255, "transform": [{"filter": "datum.s === 'b'"}], "title": {"text": "(b) 突变印记 2"},
   "mark": {"type": "bar"},
   "encoding": {
    "x": {"field": "i", "type": "ordinal", "scale": {"paddingInner": 0.45, "paddingOuter": 0}, "axis": {"title": "突变类型"}},
    "y": {"field": "v", "type": "quantitative", "scale": {"domain": [0, 0.2], "nice": false}, "axis": {"title": "发生频率", "values": [0, 0.05, 0.1, 0.15, 0.2], "labelExpr": "datum.value === 0 ? '0' : format(datum.value, '.2f')"}},
    "color": {"field": "t", "type": "nominal", "scale": {"domain": ["C>A", "C>G", "C>T", "T>A", "T>C", "T>G"], "range": ["#5f9f9d", "#6b5949", "#d2da63", "#5f4e8a", "#74a864", "#3f4b82"]}, "legend": null}
   }},
  {"width": 1082, "height": 254, "transform": [{"filter": "datum.s === 'c'"}], "title": {"text": "(c) 突变印记 3"},
   "mark": {"type": "bar"},
   "encoding": {
    "x": {"field": "i", "type": "ordinal", "scale": {"paddingInner": 0.45, "paddingOuter": 0}, "axis": {"title": "突变类型"}},
    "y": {"field": "v", "type": "quantitative", "scale": {"domain": [0, 0.2], "nice": false}, "axis": {"title": "发生频率", "values": [0, 0.05, 0.1, 0.15, 0.2], "labelExpr": "datum.value === 0 ? '0' : format(datum.value, '.2f')"}},
    "color": {"field": "t", "type": "nominal", "scale": {"domain": ["C>A", "C>G", "C>T", "T>A", "T>C", "T>G"], "range": ["#5f9f9d", "#6b5949", "#d2da63", "#5f4e8a", "#74a864", "#3f4b82"]}, "legend": null}
   }},
  {"width": 1082, "height": 218, "transform": [{"filter": "datum.s === 'd'"}], "title": {"text": "(d) 突变印记 4"},
   "mark": {"type": "bar"},
   "encoding": {
    "x": {"field": "i", "type": "ordinal", "scale": {"paddingInner": 0.45, "paddingOuter": 0}, "axis": {"title": "突变类型"}},
    "y": {"field": "v", "type": "quantitative", "scale": {"domain": [0, 0.2], "nice": false}, "axis": {"title": "发生频率", "values": [0, 0.05, 0.1, 0.15, 0.2], "labelExpr": "datum.value === 0 ? '0' : format(datum.value, '.2f')"}},
    "color": {"field": "t", "type": "nominal", "scale": {"domain": ["C>A", "C>G", "C>T", "T>A", "T>C", "T>G"], "range": ["#5f9f9d", "#6b5949", "#d2da63", "#5f4e8a", "#74a864", "#3f4b82"]}, "legend": null}
   }},
  {"width": 1082, "height": 218, "transform": [{"filter": "datum.s === 'e'"}], "title": {"text": "(e) 突变印记 5"},
   "mark": {"type": "bar"},
   "encoding": {
    "x": {"field": "i", "type": "ordinal", "scale": {"paddingInner": 0.45, "paddingOuter": 0}, "axis": {"title": "突变类型"}},
    "y": {"field": "v", "type": "quantitative", "scale": {"domain": [0, 0.2], "nice": false}, "axis": {"title": "发生频率", "values": [0, 0.05, 0.1, 0.15, 0.2], "labelExpr": "datum.value === 0 ? '0' : format(datum.value, '.2f')"}},
    "color": {"field": "t", "type": "nominal", "scale": {"domain": ["C>A", "C>G", "C>T", "T>A", "T>C", "T>G"], "range": ["#5f9f9d", "#6b5949", "#d2da63", "#5f4e8a", "#74a864", "#3f4b82"]}, "legend": null}
   }},
  {"width": 1082, "height": 219, "transform": [{"filter": "datum.s === 'f'"}], "title": {"text": "(f) 突变印记 6"},
   "mark": {"type": "bar"},
   "encoding": {
    "x": {"field": "i", "type": "ordinal", "scale": {"paddingInner": 0.45, "paddingOuter": 0}, "axis": {"title": "突变类型"}},
    "y": {"field": "v", "type": "quantitative", "scale": {"domain": [0, 0.2], "nice": false}, "axis": {"title": "发生频率", "values": [0, 0.05, 0.1, 0.15, 0.2], "labelExpr": "datum.value === 0 ? '0' : format(datum.value, '.2f')"}},
    "color": {"field": "t", "type": "nominal", "scale": {"domain": ["C>A", "C>G", "C>T", "T>A", "T>C", "T>G"], "range": ["#5f9f9d", "#6b5949", "#d2da63", "#5f4e8a", "#74a864", "#3f4b82"]}, "legend": null}
   }},
  {"bounds": "flush", "spacing": 234, "vconcat": [
   {"width": 1082, "height": 220, "transform": [{"filter": "datum.s === 'g'"}], "title": {"text": "(g) 突变印记 7"},
    "mark": {"type": "bar"},
    "encoding": {
     "x": {"field": "i", "type": "ordinal", "scale": {"paddingInner": 0.45, "paddingOuter": 0}, "axis": {"title": "突变类型"}},
     "y": {"field": "v", "type": "quantitative", "scale": {"domain": [0, 0.2], "nice": false}, "axis": {"title": "发生频率", "values": [0, 0.05, 0.1, 0.15, 0.2], "labelExpr": "datum.value === 0 ? '0' : format(datum.value, '.2f')"}},
     "color": {"field": "t", "type": "nominal", "scale": {"domain": ["C>A", "C>G", "C>T", "T>A", "T>C", "T>G"], "range": ["#5f9f9d", "#6b5949", "#d2da63", "#5f4e8a", "#74a864", "#3f4b82"]}, "legend": null}
    }},
   {"width": 1082, "height": 10,
    "data": {"values": [{"t": "C>A"}, {"t": "C>G"}, {"t": "C>T"}, {"t": "T>A"}, {"t": "T>C"}, {"t": "T>G"}]},
    "mark": {"type": "bar"},
    "encoding": {
     "x": {"field": "t", "type": "nominal", "sort": ["C>A", "C>G", "C>T", "T>A", "T>C", "T>G"], "scale": {"paddingInner": 0.05, "paddingOuter": 0}, "axis": {"title": null, "labels": true, "domain": false, "ticks": false, "labelPadding": 16, "labelAngle": 0, "labelFont": "Liberation Serif", "labelFontSize": 48}},
     "color": {"field": "t", "type": "nominal", "scale": {"domain": ["C>A", "C>G", "C>T", "T>A", "T>C", "T>G"], "range": ["#5f9f9d", "#6b5949", "#d2da63", "#5f4e8a", "#74a864", "#3f4b82"]}, "legend": null}
    }}
  ]}
 ]}
]
}
